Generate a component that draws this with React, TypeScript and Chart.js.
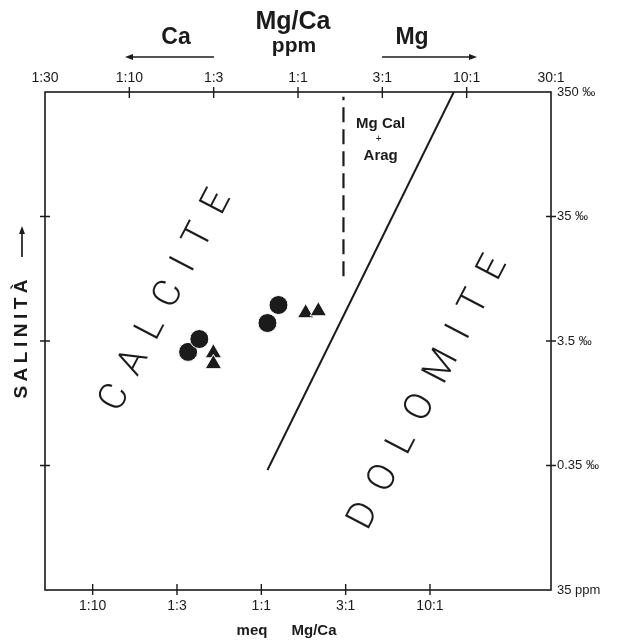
import React, { useEffect, useRef } from 'react';
import { Chart, registerables } from 'chart.js';

Chart.register(...registerables);

// ---- Axis ticks ----
const ppmTickValues = [0.03162, 0.1, 0.3162, 1, 3.162, 10, 31.62];
const ppmTickLabels = ['1:30', '1:10', '1:3', '1:1', '3:1', '10:1', '30:1'];
const meqTickValues = [0.1, 0.3162, 1, 3.162, 10];
const meqTickLabels = ['1:10', '1:3', '1:1', '3:1', '10:1'];
const MEQ_PER_PPM = 1.65; // (20.04 / 12.15)
const salinityTickValues = [350, 35, 3.5, 0.35, 0.035];
const salinityTickLabels = ['350 ‰', '35 ‰', '3.5 ‰', '0.35 ‰', '35 ppm'];

// ---- Samples ----
const circleMgCa = [0.223, 0.26, 0.659, 0.766];
const circleSalinity = [2.86, 3.63, 4.88, 6.81];
const triangleMgCa = [0.315, 0.315, 1.11, 1.32];
const triangleSalinity = [2.8, 2.29, 5.87, 6.09];

// ---- Field boundaries ----
const dolomiteLineMgCa = [0.659, 8.39];
const dolomiteLineSalinity = [0.322, 350];
const aragLineMgCa = [1.86, 1.86];
const aragLineSalinity = [11.6, 320];

// ---- Field labels (anchors in data units) ----
const fieldWords = ['CALCITE', 'DOLOMITE'];
const fieldMgCa = [0.1655, 5.96];
const fieldSalinity = [7.33, 1.34];
const aragLabelLines = ['Mg Cal', '+', 'Arag'];
const aragLabelMgCa = 3.09;
const aragLabelSalinity = 146.6;

const INK = '#1b1b1b';
const SANS = "'Liberation Sans', Arial, Helvetica, sans-serif";

function pts(xs: number[], ys: number[]) {
  return xs.map((x, i) => ({ x, y: ys[i] }));
}

function drawSpacedWord(
  ctx: CanvasRenderingContext2D,
  word: string,
  cx: number,
  cy: number,
  angle: number,
  font: string,
  gap: number
) {
  ctx.save();
  ctx.translate(cx, cy);
  ctx.rotate(angle);
  ctx.font = font;
  ctx.textAlign = 'left';
  ctx.textBaseline = 'middle';
  const chars = Array.from(word);
  const widths = chars.map((c) => ctx.measureText(c).width);
  const total = widths.reduce((a, b) => a + b, 0) + gap * (chars.length - 1);
  let x = -total / 2;
  chars.forEach((c, i) => {
    ctx.fillText(c, x, 0);
    x += widths[i] + gap;
  });
  ctx.restore();
}

function arrow(ctx: CanvasRenderingContext2D, x1: number, y1: number, x2: number, y2: number) {
  const ang = Math.atan2(y2 - y1, x2 - x1);
  const hl = 8;
  const hw = 3;
  ctx.beginPath();
  ctx.moveTo(x1, y1);
  ctx.lineTo(x2 - Math.cos(ang) * hl * 0.8, y2 - Math.sin(ang) * hl * 0.8);
  ctx.stroke();
  ctx.beginPath();
  ctx.moveTo(x2, y2);
  ctx.lineTo(x2 - Math.cos(ang) * hl - Math.sin(ang) * hw, y2 - Math.sin(ang) * hl + Math.cos(ang) * hw);
  ctx.lineTo(x2 - Math.cos(ang) * hl + Math.sin(ang) * hw, y2 - Math.sin(ang) * hl - Math.cos(ang) * hw);
  ctx.closePath();
  ctx.fill();
}

const decorPlugin = {
  id: 'decor',
  afterDatasetsDraw(chart: any) {
    const ctx: CanvasRenderingContext2D = chart.ctx;
    const { left, right, top, bottom } = chart.chartArea;
    const sx = chart.scales.x;
    const sx2 = chart.scales.x2;
    const sy = chart.scales.y;
    ctx.save();
    ctx.strokeStyle = INK;
    ctx.fillStyle = INK;
    ctx.lineWidth = 1.6;
    ctx.strokeRect(left, top, right - left, bottom - top);

    // crossing tick marks
    ctx.lineWidth = 1.4;
    ctx.beginPath();
    ppmTickValues.forEach((v) => {
      const p = sx.getPixelForValue(v);
      if (p > left + 2 && p < right - 2) {
        ctx.moveTo(p, top - 5);
        ctx.lineTo(p, top + 6);
      }
    });
    meqTickValues.forEach((v) => {
      const p = sx2.getPixelForValue(v);
      if (p > left + 2 && p < right - 2) {
        ctx.moveTo(p, bottom - 6);
        ctx.lineTo(p, bottom + 5);
      }
    });
    salinityTickValues.forEach((v) => {
      const p = sy.getPixelForValue(v);
      if (p > top + 2 && p < bottom - 2) {
        ctx.moveTo(left - 5, p);
        ctx.lineTo(left + 5, p);
        ctx.moveTo(right - 5, p);
        ctx.lineTo(right + 5, p);
      }
    });
    ctx.stroke();

    // Mg Cal + Arag label
    const ax = sx.getPixelForValue(aragLabelMgCa);
    const ay = sy.getPixelForValue(aragLabelSalinity);
    ctx.textAlign = 'center';
    ctx.textBaseline = 'middle';
    ctx.font = `bold 15px ${SANS}`;
    ctx.fillText(aragLabelLines[0], ax, ay - 15);
    ctx.font = `10px ${SANS}`;
    ctx.fillText(aragLabelLines[1], ax - 2, ay);
    ctx.font = `bold 15px ${SANS}`;
    ctx.fillText(aragLabelLines[2], ax, ay + 17);

    // big field words
    const ang = (-62.5 * Math.PI) / 180;
    const bigFont = `300 38px Roboto, 'Open Sans', ${SANS}`;
    drawSpacedWord(
      ctx,
      fieldWords[0],
      sx.getPixelForValue(fieldMgCa[0]),
      sy.getPixelForValue(fieldSalinity[0]),
      ang,
      bigFont,
      16
    );
    drawSpacedWord(
      ctx,
      fieldWords[1],
      sx.getPixelForValue(fieldMgCa[1]),
      sy.getPixelForValue(fieldSalinity[1]),
      ang,
      bigFont,
      17
    );

    // top titles
    ctx.textAlign = 'center';
    ctx.textBaseline = 'middle';
    ctx.font = `bold 25px ${SANS}`;
    ctx.fillText('Mg/Ca', 293, 22);
    ctx.font = `bold 21px ${SANS}`;
    ctx.fillText('ppm', 294, 46);
    ctx.font = `bold 23px ${SANS}`;
    ctx.fillText('Ca', 176, 38);
    ctx.fillText('Mg', 412, 38);
    ctx.lineWidth = 1.7;
    arrow(ctx, 214, 57, 125, 57);
    arrow(ctx, 382, 57, 477, 57);

    // left label
    drawSpacedWord(ctx, 'SALINITÀ', 22, 339, -Math.PI / 2, `bold 19px ${SANS}`, 4.5);
    ctx.lineWidth = 1.7;
    arrow(ctx, 22, 257, 22, 226);

    // bottom title
    ctx.font = `bold 15px ${SANS}`;
    ctx.textAlign = 'center';
    ctx.fillText('meq', 252, 631);
    ctx.fillText('Mg/Ca', 314, 631);
    ctx.restore();
  },
};

export default function App() {
  const ref = useRef<HTMLCanvasElement | null>(null);

  useEffect(() => {
    if (!ref.current) return;
    const xMin = ppmTickValues[0];
    const xMax = ppmTickValues[ppmTickValues.length - 1];
    const yMin = salinityTickValues[salinityTickValues.length - 1];
    const yMax = salinityTickValues[0];
    const tickFont = { family: SANS, size: 14 };

    const chart = new Chart(ref.current, {
      type: 'scatter',
      data: {
        datasets: [
          {
            label: 'dolomite boundary',
            data: pts(dolomiteLineMgCa, dolomiteLineSalinity),
            showLine: true,
            borderColor: INK,
            borderWidth: 2,
            pointRadius: 0,
            xAxisID: 'x',
            yAxisID: 'y',
          },
          {
            label: 'Mg calcite + aragonite boundary',
            data: pts(aragLineMgCa, aragLineSalinity),
            showLine: true,
            borderColor: INK,
            borderWidth: 2.2,
            borderDash: [15, 7],
            pointRadius: 0,
            xAxisID: 'x',
            yAxisID: 'y',
          },
          {
            label: 'circles',
            data: pts(circleMgCa, circleSalinity),
            pointStyle: 'circle',
            pointRadius: 9.5,
            backgroundColor: INK,
            borderColor: '#ffffff',
            borderWidth: 1,
            xAxisID: 'x',
            yAxisID: 'y',
          },
          {
            label: 'triangles',
            data: pts(triangleMgCa, triangleSalinity),
            pointStyle: 'triangle',
            pointRadius: 9.5,
            backgroundColor: INK,
            borderColor: '#ffffff',
            borderWidth: 1,
            xAxisID: 'x',
            yAxisID: 'y',
          },
        ],
      },
      options: {
        responsive: false,
        animation: false,
        events: [],
        layout: { padding: 0 },
        plugins: { legend: { display: false }, tooltip: { enabled: false }, title: { display: false } },
        scales: {
          x: {
            type: 'logarithmic',
            position: 'top',
            min: xMin,
            max: xMax,
            grid: { display: false, drawTicks: false },
            border: { display: false },
            afterBuildTicks: (s: any) => {
              s.ticks = ppmTickValues.map((v) => ({ value: v }));
            },
            afterFit: (s: any) => {
              s.height = 92;
            },
            ticks: {
              autoSkip: false,
              maxRotation: 0,
              padding: 5,
              color: INK,
              font: tickFont,
              callback: (_v: any, i: number) => ppmTickLabels[i],
            },
          },
          x2: {
            type: 'logarithmic',
            position: 'bottom',
            min: xMin * MEQ_PER_PPM,
            max: xMax * MEQ_PER_PPM,
            grid: { display: false, drawTicks: false },
            border: { display: false },
            afterBuildTicks: (s: any) => {
              s.ticks = meqTickValues.map((v) => ({ value: v }));
            },
            afterFit: (s: any) => {
              s.height = 52;
            },
            ticks: {
              autoSkip: false,
              maxRotation: 0,
              padding: 8,
              color: INK,
              font: tickFont,
              callback: (_v: any, i: number) => meqTickLabels[i],
            },
          },
          y: {
            type: 'logarithmic',
            position: 'left',
            min: yMin,
            max: yMax,
            grid: { display: false, drawTicks: false },
            border: { display: false },
            ticks: { display: false },
            afterFit: (s: any) => {
              s.width = 45;
            },
          },
          y2: {
            type: 'logarithmic',
            position: 'right',
            min: yMin,
            max: yMax,
            grid: { display: false, drawTicks: false },
            border: { display: false },
            afterBuildTicks: (s: any) => {
              s.ticks = salinityTickValues.map((v) => ({ value: v }));
            },
            afterFit: (s: any) => {
              s.width = 66;
            },
            ticks: {
              autoSkip: false,
              padding: 6,
              color: INK,
              font: { family: SANS, size: 13 },
              callback: (_v: any, i: number) => salinityTickLabels[i],
            },
          },
        },
      },
      plugins: [decorPlugin],
    } as any);

    return () => chart.destroy();
  }, []);

  return (
    <div style={{ position: 'fixed', left: 0, top: 0, width: 617, height: 642, background: '#fff' }}>
      <canvas ref={ref} width={617} height={642} style={{ display: 'block' }} />
    </div>
  );
}
